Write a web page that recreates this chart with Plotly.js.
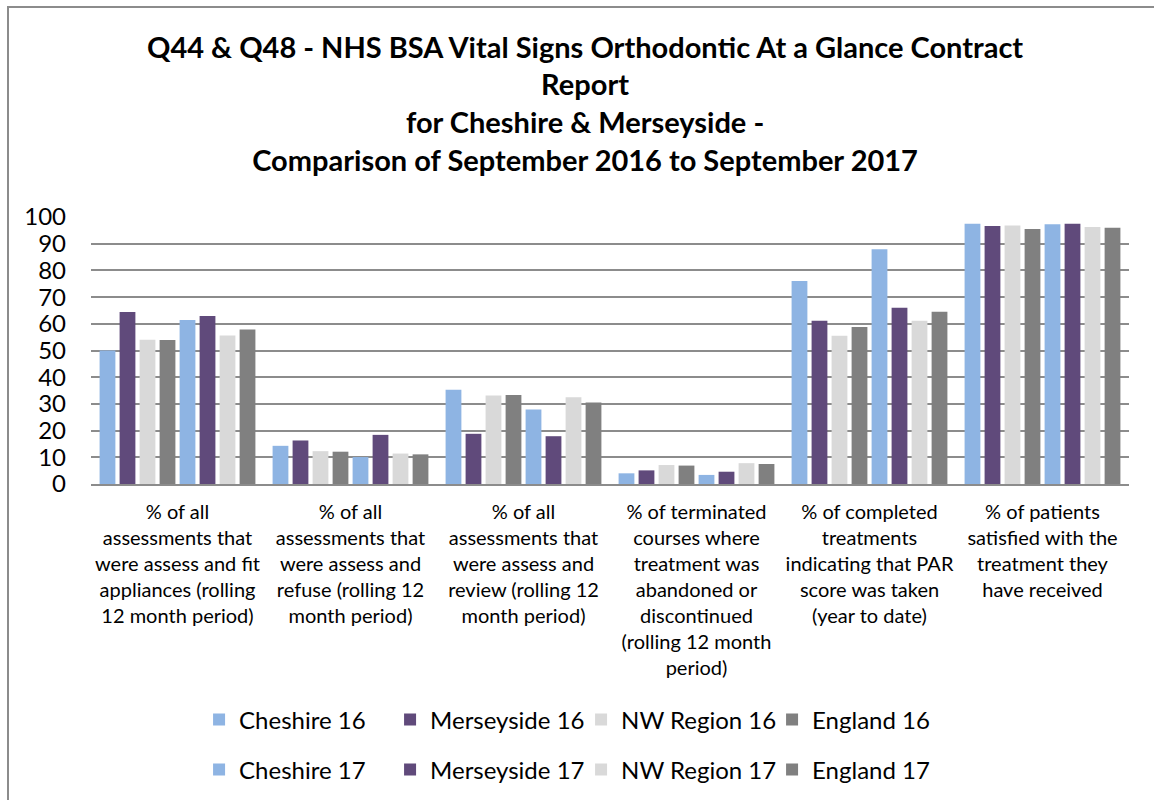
<!DOCTYPE html>
<html>
<head>
<meta charset="utf-8">
<script src="https://cdn.plot.ly/plotly-3.0.1.min.js"></script>
<style>
  html, body { margin: 0; padding: 0; background: #fff; }
  #wrap { position: relative; width: 1154px; height: 800px; overflow: hidden; }
  #chart { width: 1154px; height: 800px; }
  #frame { position: absolute; left: 7px; top: 6px; width: 1200px; height: 900px;
           border-left: 2px solid #8c8c8c; border-top: 2px solid #8c8c8c; pointer-events: none; }
</style>
</head>
<body>
<div id="wrap">
  <div id="chart"></div>
  <div id="frame"></div>
</div>
<script>
const categories = [
  "% of all<br>assessments that<br>were assess and fit<br>appliances (rolling<br>12 month period)",
  "% of all<br>assessments that<br>were assess and<br>refuse (rolling 12<br>month period)",
  "% of all<br>assessments that<br>were assess and<br>review (rolling 12<br>month period)",
  "% of terminated<br>courses where<br>treatment was<br>abandoned or<br>discontinued<br>(rolling 12 month<br>period)",
  "% of completed<br>treatments<br>indicating that PAR<br>score was taken<br>(year to date)",
  "% of patients<br>satisfied with the<br>treatment they<br>have received"
];

const cheshire16   = [50.0, 14.3, 35.3, 4.0, 76.0, 97.5];
const merseyside16 = [64.4, 16.3, 18.8, 5.1, 61.1, 96.6];
const nwRegion16   = [54.0, 12.3, 33.1, 7.1, 55.5, 96.8];
const england16    = [53.9, 12.1, 33.3, 6.9, 58.8, 95.5];
const cheshire17   = [61.4, 10.1, 27.9, 3.4, 87.9, 97.3];
const merseyside17 = [62.9, 18.4, 17.9, 4.6, 66.0, 97.5];
const nwRegion17   = [55.6, 11.4, 32.5, 7.8, 61.1, 96.3];
const england17    = [57.9, 11.1, 30.5, 7.5, 64.5, 96.0];

const seriesNames = ["Cheshire 16", "Merseyside 16", "NW Region 16", "England 16",
                     "Cheshire 17", "Merseyside 17", "NW Region 17", "England 17"];
const seriesValues = [cheshire16, merseyside16, nwRegion16, england16,
                      cheshire17, merseyside17, nwRegion17, england17];
const colors = ["#8EB4E3", "#604A7B", "#D9D9D9", "#808080"];

const FONT = "Lato, 'Open Sans', sans-serif";

const traces = seriesNames.map((name, i) => ({
  type: "bar",
  name: name,
  x: categories,
  y: seriesValues[i],
  marker: { color: colors[i % 4], line: { width: 0 } },
  legend: i < 4 ? "legend" : "legend2",
  hoverinfo: "name+y"
}));

const legendCommon = {
  orientation: "h",
  xref: "container", yref: "container",
  xanchor: "left", yanchor: "middle",
  font: { family: FONT, size: 24, color: "#000" },
  bgcolor: "rgba(0,0,0,0)",
  entrywidth: 146,
  entrywidthmode: "pixels",
  itemwidth: 30,
  traceorder: "normal"
};

const layout = {
  width: 1154, height: 800,
  margin: { l: 91, r: 25, t: 217, b: 316 },
  paper_bgcolor: "#fff",
  plot_bgcolor: "#fff",
  font: { family: FONT, color: "#000" },
  title: {
    text: "<b>Q44 & Q48 - NHS BSA Vital Signs Orthodontic At a Glance Contract<br>Report<br>for Cheshire & Merseyside -<br>Comparison of September 2016 to September 2017</b>",
    font: { family: FONT, size: 29, color: "#000" },
    xref: "container", x: 0.507, xanchor: "center",
    yref: "container", y: 0.928, yanchor: "top"
  },
  barmode: "group",
  bargap: 0.075,
  bargroupgap: 0.21,
  xaxis: {
    type: "category",
    automargin: false,
    tickfont: { family: FONT, size: 20, color: "#000" },
    showline: true, linecolor: "#8c8c8c", linewidth: 2,
    ticks: "", showgrid: false,
    ticklabelstandoff: 9,
    fixedrange: true
  },
  yaxis: {
    range: [0, 100],
    dtick: 10,
    automargin: false,
    tickfont: { family: FONT, size: 24, color: "#000" },
    gridcolor: "#8c8c8c", gridwidth: 2,
    zeroline: false,
    showline: false,
    ticks: "",
    ticklabelstandoff: 24,
    fixedrange: true
  },
  legend: Object.assign({}, legendCommon, { x: 0.1725, y: 0.1 }),
  legend2: Object.assign({}, legendCommon, { x: 0.1725, y: 0.0375 }),
  showlegend: true
};

Plotly.newPlot("chart", traces, layout, { displayModeBar: false, staticPlot: true });
</script>
</body>
</html>
